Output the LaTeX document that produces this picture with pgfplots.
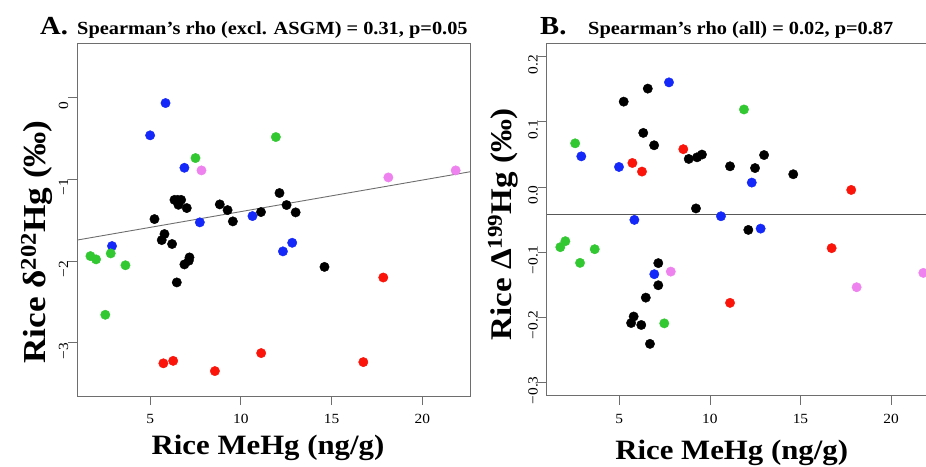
\documentclass[border=0pt]{standalone}
\usepackage{fontspec}
\setmainfont{Liberation Serif}[FakeStretch=1.1]
\usepackage{pgfplots}
\pgfplotsset{compat=1.18}

\definecolor{rblue}{RGB}{20,40,250}
\definecolor{rgreen}{RGB}{50,200,50}
\definecolor{rred}{RGB}{250,20,10}
\definecolor{rviolet}{RGB}{238,130,238}
\definecolor{rgray}{RGB}{110,110,110}

\pgfplotsset{
  rstyle/.style={
    scale only axis,
    axis line style={rgray, line width=0.8pt},
    every tick/.style={rgray, line width=0.8pt},
    tick align=outside,
    major tick length=9pt,
    xtick pos=left, ytick pos=left,
    tick label style={font=\fontsize{14}{16}\selectfont},
    yticklabel style={rotate=90, anchor=base, xshift=-8pt},
    xticklabel style={yshift=-6pt},
    xtick={5,10,15,20},
    xticklabels={5,10,15,20},
  },
  dots/.style={only marks, mark=*, mark size=4.7pt, color=#1, mark options={draw=none, fill=#1}},
}

\begin{document}
\begin{tikzpicture}

% panel A
\begin{axis}[rstyle,
  at={(77pt,70pt)}, anchor=south west,
  width=393pt, height=353pt,
  xmin=0.97, xmax=22.63, ymin=-3.65, ymax=0.67,
  ytick={-3,-2,-1,0},
  yticklabels={−3,−2,−1,0},
]
\addplot[rgray, line width=0.9pt] coordinates {(0.97,-1.742) (22.63,-0.906)};
\addplot[dots=black] coordinates {
 (12.13,-1.166) (12.52,-1.313) (13.02,-1.403) (11.11,-1.399) (9.56,-1.513)
 (9.27,-1.375) (8.84,-1.305) (6.34,-1.25) (6.52,-1.25) (6.71,-1.25)
 (6.56,-1.31) (7.02,-1.35) (5.24,-1.485) (5.79,-1.668) (5.64,-1.742)
 (6.21,-1.79) (7.17,-1.954) (7.13,-1.995) (6.89,-2.04) (6.47,-2.26) (14.61,-2.07)};
\addplot[dots=rblue] coordinates {
 (5.85,-0.065) (5.0,-0.46) (6.89,-0.857) (10.64,-1.448) (7.74,-1.525)
 (2.90,-1.815) (12.32,-1.88) (12.83,-1.775)};
\addplot[dots=rgreen] coordinates {
 (7.50,-0.738) (11.93,-0.481) (1.71,-1.938) (2.02,-1.978) (2.83,-1.905)
 (3.64,-2.05) (2.53,-2.656)};
\addplot[dots=rviolet] coordinates {(7.83,-0.889) (18.13,-0.975) (21.84,-0.889)};
\addplot[dots=rred] coordinates {
 (17.85,-2.20) (5.73,-3.25) (6.27,-3.22) (8.57,-3.345) (11.12,-3.125) (16.75,-3.235)};
\end{axis}

% panel B
\begin{axis}[rstyle,
  at={(546.7pt,70.3pt)}, anchor=south west,
  width=392pt, height=352.4pt,
  xmin=0.99, xmax=22.63, ymin=-0.3206, ymax=0.2206,
  ytick={-0.3,-0.2,-0.1,0,0.1,0.2},
  yticklabels={−0.3,−0.2,−0.1,0.0,0.1,0.2},
]
\addplot[rgray!80!black, line width=0.9pt] coordinates {(0.99,-0.0423) (22.63,-0.0423)};
\addplot[dots=black] coordinates {
 (6.57,0.151) (5.24,0.131) (6.32,0.083) (6.92,0.064) (8.83,0.043)
 (9.29,0.0455) (9.56,0.0497) (12.99,0.049) (11.11,0.0317) (12.49,0.029)
 (14.60,0.0195) (9.23,-0.033) (12.12,-0.066) (7.15,-0.117) (7.15,-0.151)
 (6.46,-0.170) (5.79,-0.199) (5.65,-0.209) (6.21,-0.212) (6.69,-0.241)};
\addplot[dots=rblue] coordinates {
 (7.74,0.1606) (2.90,0.047) (4.98,0.0307) (12.31,0.0067) (5.83,-0.0506)
 (10.61,-0.045) (12.8,-0.064) (6.93,-0.134)};
\addplot[dots=rgreen] coordinates {
 (11.88,0.119) (2.56,0.067) (1.74,-0.0925) (2.02,-0.0833) (2.83,-0.1166)
 (3.64,-0.0956) (7.48,-0.2095)};
\addplot[dots=rred] coordinates {
 (8.53,0.058) (5.72,0.0368) (6.25,0.0236) (17.80,-0.0046) (16.72,-0.094) (11.11,-0.178)};
\addplot[dots=rviolet] coordinates {(7.84,-0.130) (18.1,-0.154) (21.78,-0.132)};
\end{axis}

% titles
\node[anchor=base west, inner sep=0] at (40pt,431pt) {\fontsize{26}{28}\selectfont\bfseries A.};
\node[anchor=base west, inner sep=0] at (77pt,431pt) {\fontsize{18.5}{20}\selectfont\bfseries Spearman’s rho (excl. ASGM) = 0.31, p=0.05};
\node[anchor=base west, inner sep=0] at (540pt,431pt) {\fontsize{26}{28}\selectfont\bfseries B.};
\node[anchor=base west, inner sep=0] at (588pt,431pt) {\fontsize{18.5}{20}\selectfont\bfseries Spearman’s rho (all) = 0.02, p=0.87};

% axis labels
\node[anchor=base, inner sep=0] at (268pt,12pt) {\fontsize{28}{30}\selectfont\bfseries Rice MeHg (ng/g)};
\node[anchor=base, inner sep=0] at (731.7pt,7pt) {\fontsize{28}{30}\selectfont\bfseries Rice MeHg (ng/g)};
\node[rotate=90, anchor=base, inner sep=0] at (45pt,224pt) {\fontsize{32}{34}\selectfont\bfseries Rice δ\textsuperscript{202}Hg (‰)};
\node[rotate=90, anchor=base, inner sep=0] at (511pt,241.5pt) {\fontsize{30}{32}\selectfont\bfseries Rice Δ\textsuperscript{199}Hg (‰)};

\pgfresetboundingbox
\useasboundingbox (0pt,0pt) rectangle (926pt,466pt);
\end{tikzpicture}
\end{document}
